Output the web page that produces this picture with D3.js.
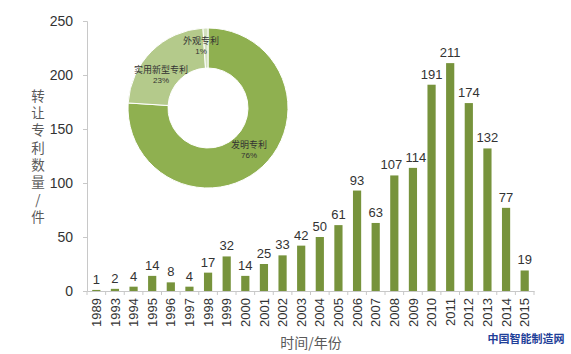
<!DOCTYPE html>
<html>
<head>
<meta charset="utf-8">
<script src="https://cdn.jsdelivr.net/npm/d3@7"></script>
<style>
  body { margin: 0; background: #fff; }
  svg { display: block; font-family: "Liberation Sans", "Noto Sans CJK SC", sans-serif; }
</style>
</head>
<body>
<svg id="chart" width="571" height="354"></svg>
<script>
// data
const years = ["1989","1993","1994","1995","1996","1997","1998","1999","2000","2001","2002","2003",
  "2004","2005","2006","2007","2008","2009","2010","2011","2012","2013","2014","2015"];
const counts = [1,2,4,14,8,4,17,32,14,25,33,42,50,61,93,63,107,114,191,211,174,132,77,19];
const yTicks = [0,50,100,150,200,250];

const pieNames = ["发明专利","实用新型专利","外观专利"];
const pieShares = [76,23,1];
const pieColors = ["#8fb050","#b4ca8b","#d3e0bf"];

const svg = d3.select("#chart");
const plotL = 87, plotR = 534, plotT = 21, plotB = 291;

const x = d3.scaleBand().domain(years).range([plotL, plotR]).paddingInner(0.56).paddingOuter(0.28);
const y = d3.scaleLinear().domain([0, 250]).range([plotB, plotT]);

// y axis
const yAxis = svg.append("g")
  .attr("transform", `translate(${plotL},0)`)
  .call(d3.axisLeft(y).tickValues(yTicks).tickSize(4).tickPadding(10));
yAxis.select(".domain").attr("stroke", "#c8c8c8");
yAxis.selectAll(".tick line").attr("stroke", "#c8c8c8");
yAxis.selectAll("text").attr("font-size", 14).attr("fill", "#333");

// x axis, ticks between categories
const xAxis = svg.append("g")
  .attr("transform", `translate(0,${plotB})`)
  .call(d3.axisBottom(x).tickSize(0).tickPadding(0));
xAxis.select(".domain").attr("stroke", "#c8c8c8");
xAxis.selectAll(".tick text")
  .attr("font-size", 13).attr("fill", "#333")
  .attr("transform", "rotate(-90)")
  .attr("text-anchor", "end")
  .attr("dx", "-7px").attr("dy", "0.35em")
  .attr("x", 0).attr("y", 0);
svg.append("g").selectAll("line")
  .data(d3.range(years.length + 1))
  .join("line")
  .attr("x1", i => plotL + i * (plotR - plotL) / years.length)
  .attr("x2", i => plotL + i * (plotR - plotL) / years.length)
  .attr("y1", plotB).attr("y2", plotB + 4)
  .attr("stroke", "#c8c8c8");

// bars
svg.append("g").selectAll("rect")
  .data(counts)
  .join("rect")
  .attr("x", (d, i) => x(years[i]))
  .attr("y", d => y(d))
  .attr("width", x.bandwidth())
  .attr("height", d => plotB - y(d))
  .attr("fill", "#77933c");

// value labels
svg.append("g").selectAll("text")
  .data(counts)
  .join("text")
  .attr("x", (d, i) => x(years[i]) + x.bandwidth() / 2 + (d === 107 ? -3 : d === 114 ? 3 : 0))
  .attr("y", d => y(d) - 6)
  .attr("text-anchor", "middle")
  .attr("font-size", 13)
  .attr("fill", "#333")
  .text(d => d);

// axis titles (y title stacked vertically as one text)
svg.append("text")
  .attr("x", 38).attr("y", 89)
  .style("writing-mode", "vertical-rl")
  .style("text-orientation", "upright")
  .style("letter-spacing", "3.8px")
  .attr("font-size", 13.5)
  .attr("fill", "#595959")
  .attr("font-family", "Noto Sans CJK SC")
  .text("转让专利数量/件");

svg.append("text")
  .attr("x", 311).attr("y", 348)
  .attr("text-anchor", "middle")
  .attr("font-size", 14)
  .attr("fill", "#595959")
  .attr("font-family", "Noto Sans CJK SC")
  .text("时间/年份");

// donut inset
const cx = 208, cy = 108;
const pie = d3.pie().sort(null).value(d => d)(pieShares);
const arc = d3.arc().innerRadius(40).outerRadius(80);
const donut = svg.append("g").attr("transform", `translate(${cx},${cy})`);
donut.selectAll("path")
  .data(pie)
  .join("path")
  .attr("d", arc)
  .attr("fill", (d, i) => pieColors[i])
  .attr("stroke", "#fff")
  .attr("stroke-width", 1);

const labelPos = [[41, 40], [-47, -35], [-7, -64]];
const lab = donut.selectAll("g.lab")
  .data(pie)
  .join("g")
  .attr("transform", (d, i) => `translate(${labelPos[i][0]},${labelPos[i][1]})`);
lab.append("text")
  .attr("text-anchor", "middle")
  .attr("font-size", 9)
  .attr("fill", "#333")
  .attr("font-family", "Noto Sans CJK SC")
  .text((d, i) => pieNames[i]);
lab.append("text")
  .attr("y", 10)
  .attr("text-anchor", "middle")
  .attr("font-size", 8)
  .attr("fill", "#333")
  .text((d, i) => pieShares[i] + "%");

// watermark
svg.append("text")
  .attr("x", 526).attr("y", 343)
  .attr("text-anchor", "middle")
  .attr("font-size", 11)
  .attr("font-weight", "bold")
  .attr("fill", "#1f3f99")
  .attr("font-family", "Noto Sans CJK SC")
  .text("中国智能制造网");
</script>
</body>
</html>
